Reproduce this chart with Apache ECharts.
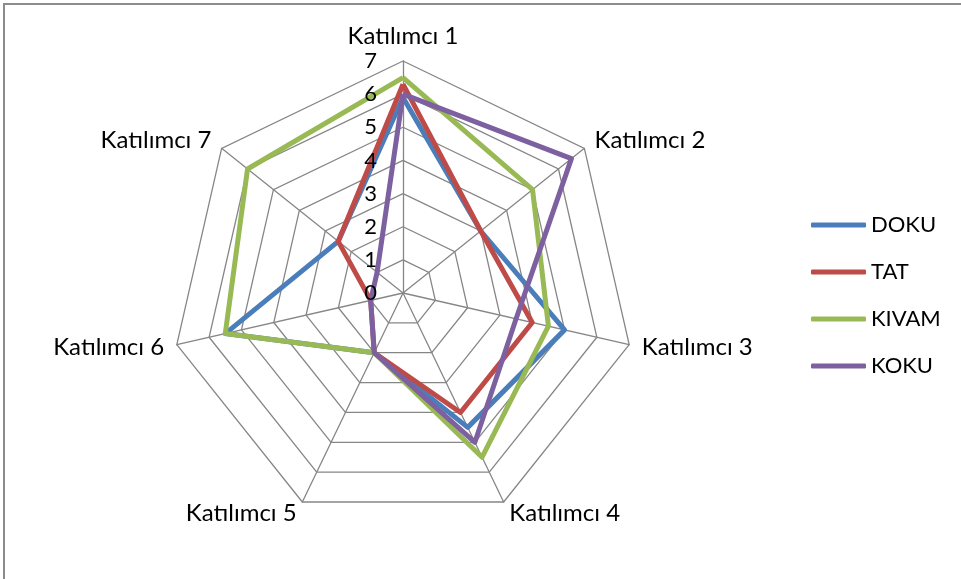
<!DOCTYPE html>
<html><head><meta charset="utf-8">
<script src="https://cdn.jsdelivr.net/npm/echarts@6/dist/echarts.min.js"></script>
<style>
html,body{margin:0;padding:0;background:#fff;overflow:hidden;}
#c{position:absolute;left:0;top:0;width:961px;height:579px;}
#frame{position:absolute;left:3px;top:3px;width:1200px;height:1200px;border-left:2px solid #8c8c8c;border-top:2px solid #8c8c8c;pointer-events:none;}
</style>
</head><body>
<div id="c"></div><div id="frame"></div>
<script>
const categories = ['Katılımcı 1','Katılımcı 2','Katılımcı 3','Katılımcı 4','Katılımcı 5','Katılımcı 6','Katılımcı 7'];
const axisMin = 0;
const axisMax = 7;
const seriesNames = ['DOKU','TAT','KIVAM','KOKU'];
const doku  = [5.9, 3.0, 5.0, 4.5, 2.0, 5.5, 2.5];
const tat   = [6.3, 3.0, 4.0, 4.0, 2.0, 1.0, 2.5];
const kivam = [6.5, 5.0, 4.5, 5.5, 2.0, 5.5, 6.0];
const koku  = [6.0, 6.5, 3.5, 5.0, 2.0, 1.0, 1.0];
const colors = ['#4A7EBB','#BE4B48','#98B954','#7D60A0'];
const FONT = 'Lato';

// ECharts lays radar indicators out counter-clockwise; reorder so they run clockwise like the original
const order = [0, 6, 5, 4, 3, 2, 1];
const values = [doku, tat, kivam, koku];
const CENTER = [403, 293], RADIUS = 232;
const chart = echarts.init(document.getElementById('c'), null, {renderer:'canvas'});
chart.setOption({
  animation: false,
  color: colors,
  textStyle: {fontFamily: FONT},
  legend: {
    orient: 'vertical', left: 806, top: 209,
    itemWidth: 55, itemHeight: 5, itemGap: 25,
    icon: 'roundRect',
    textStyle: {fontSize: 22, color: '#000', fontFamily: FONT},
    data: seriesNames
  },
  radar: [{
    center: CENTER, radius: RADIUS, startAngle: 90,
    splitNumber: 7, shape: 'polygon',
    indicator: order.map(k => ({name: categories[k], min: axisMin, max: axisMax})),
    axisName: {color: '#000', fontSize: 24, fontFamily: FONT},
    nameGap: 13,
    splitLine: {lineStyle: {color: '#868686', width: 1.3}},
    splitArea: {show: false},
    axisLine: {lineStyle: {color: '#868686', width: 1.3}},
    axisTick: {show: false},
    axisLabel: {show: false}
  }, {
    // overlay radar that only carries the tick labels of the first axis, drawn above the series
    z: 10,
    center: CENTER, radius: RADIUS, startAngle: 90,
    splitNumber: 7, shape: 'polygon',
    indicator: order.map((k, i) => i === 0
      ? {name: categories[k], min: axisMin, max: axisMax, axisLabel: {show: true, color: '#000', fontSize: 22, margin: 26, fontFamily: FONT}}
      : {name: categories[k], min: axisMin, max: axisMax}),
    axisName: {show: false},
    splitLine: {show: false},
    splitArea: {show: false},
    axisLine: {show: false},
    axisTick: {show: false},
    axisLabel: {show: false}
  }],
  series: [{
    type: 'radar',
    radarIndex: 0,
    symbol: 'none',
    data: seriesNames.map((n, i) => ({
      name: n, value: order.map(k => values[i][k]),
      lineStyle: {color: colors[i], width: 5},
      itemStyle: {color: colors[i]}
    }))
  }]
});
</script>
</body></html>
